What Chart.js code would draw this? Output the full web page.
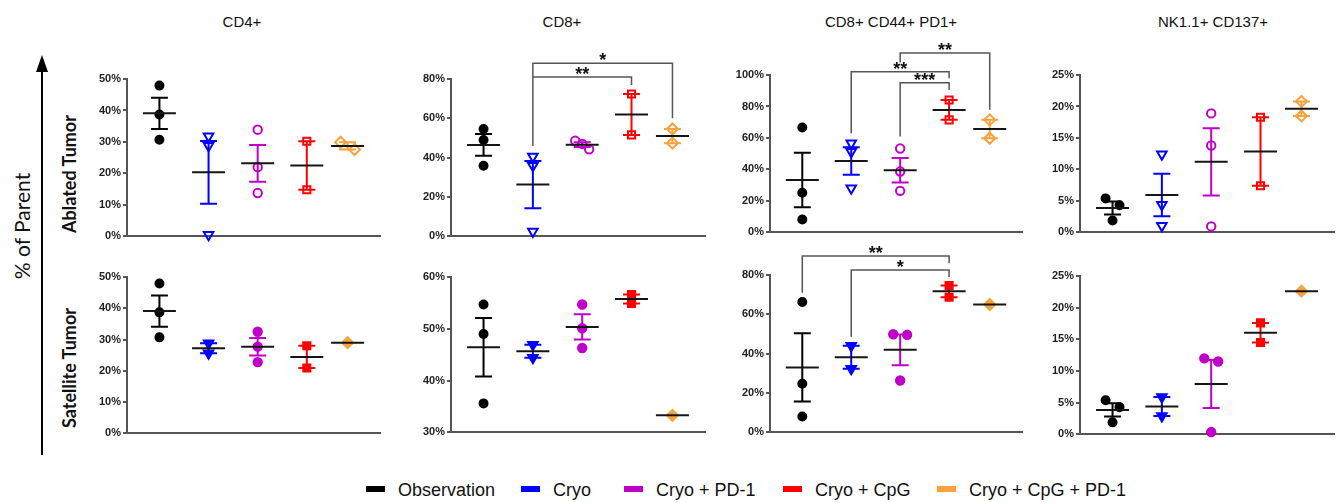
<!DOCTYPE html>
<html>
<head>
<meta charset="utf-8">
<script src="https://cdn.jsdelivr.net/npm/chart.js@4.4.1/dist/chart.umd.min.js"></script>
<style>
body{margin:0;width:1344px;height:503px;background:#fff;position:relative;overflow:hidden;font-family:Arial,"Liberation Sans",sans-serif;color:#111}
canvas{position:absolute}
.title{position:absolute;top:13px;font-size:15px;transform:translateX(-50%);white-space:nowrap}
.side{position:absolute;white-space:nowrap;transform:translate(-50%,-50%) rotate(-90deg)}
.lg{position:absolute;top:480px;font-size:18px;white-space:nowrap;line-height:20px}
.lg i{display:inline-block;width:19px;height:6px;margin-right:13px;vertical-align:middle;position:relative;top:-2px}
</style>
</head>
<body>
<svg style="position:absolute;left:0;top:0" width="90" height="503">
  <line x1="42" y1="68" x2="42" y2="455" stroke="#000" stroke-width="2"/>
  <polygon points="42,55 36,72 48,72" fill="#000"/>
</svg>
<div class="side" style="left:21px;top:226px;font-size:21px;font-family:Lato,'Open Sans',sans-serif">% of Parent</div>
<div class="side" style="left:69px;top:174px;font-size:18px;font-weight:bold;font-family:Lato,'Open Sans',sans-serif">Ablated Tumor</div>
<div class="side" style="left:69px;top:368px;font-size:18px;font-weight:bold;font-family:Lato,'Open Sans',sans-serif">Satellite Tumor</div>

<div class="title" style="left:242px">CD4+</div>
<div class="title" style="left:562px">CD8+</div>
<div class="title" style="left:891px">CD8+ CD44+ PD1+</div>
<div class="title" style="left:1213px">NK1.1+ CD137+</div>

<div id="legend"></div>

<script>
// groups and styling
const groups = ["Observation", "Cryo", "Cryo + PD-1", "Cryo + CpG", "Cryo + CpG + PD-1"];
const colors = ["#000000", "#0000ff", "#c000c8", "#ff0000", "#f7a23c"];
const markers = ["circle", "triangle", "circle", "rect", "rectRot"];
const catX = [1, 2, 3, 4, 4.83];

// % of parent, per group (ablated row)
const cd4Ablated  = [[47.9, 38.7, 30.7], [31.8, 28.8, 0.5], [33.9, 22.0, 13.8], [30.2, 14.8], [29.9, 27.6]];
const cd8Ablated  = [[54.6, 49.0, 35.9], [40.6, 35.9, 2.5], [48.6, 44.3, 47.0], [72.4, 51.6], [54.6, 47.4]];
const pd1Ablated  = [[66.6, 25.2, 8.2], [56.7, 51.2, 28.1], [53.3, 38.7, 26.4], [84.1, 71.5], [71.5, 59.8]];
const nkAblated   = [[5.4, 4.3, 1.9], [12.4, 4.4, 1.05], [18.9, 13.8, 0.95], [18.3, 7.4], [20.8, 18.5]];
// satellite row
const cd4Satellite = [[47.9, 38.7, 30.7], [28.8, 25.6], [32.5, 27.75, 22.8], [28.0, 20.9], [29.0]];
const cd8Satellite = [[54.7, 49.0, 35.6], [46.9, 44.4], [54.7, 50.1, 46.3], [56.6, 54.9], [33.3]];
const pd1Satellite = [[66.3, 24.7, 8.1], [44.0, 32.4], [49.9, 49.6, 26.4], [74.7, 68.7], [65.0]];
const nkSatellite  = [[5.4, 4.3, 1.9], [5.9, 2.9], [12.0, 11.5, 0.37], [17.6, 14.5], [22.6]];

// y tick labels
const ticksCD4 = [0, 10, 20, 30, 40, 50];
const ticksCD8a = [0, 20, 40, 60, 80];
const ticksPD1a = [0, 20, 40, 60, 80, 100];
const ticksNK = [0, 5, 10, 15, 20, 25];
const ticksCD8s = [30, 40, 50, 60];
const ticksPD1s = [0, 20, 40, 60, 80];

// significance: [from group, to group, bracket level, left leg end, right leg end, label]
const sigCD8a = [[2, 4, 81, 46, 77, "**"], [2, 5, 88, 81, 60, "*"]];
const sigPD1a = [[3, 5, 114, 108, 78, "**"], [2, 4, 102, 63, 98, "**"], [3, 4, 95, 61, 90.5, "***"]];
const sigPD1s = [[1, 4, 89.6, 71, 86, "**"], [2, 4, 82.5, 48.6, 79, "*"]];

// [axis x, top tick y, zero y, axis end x]
const panels = [
  {vals: cd4Ablated, ticks: ticksCD4, open: true, box: [127, 79, 237, 382], sig: []},
  {vals: cd8Ablated, ticks: ticksCD8a, open: true, box: [451, 79, 237, 707], sig: sigCD8a},
  {vals: pd1Ablated, ticks: ticksPD1a, open: true, box: [770, 75, 233, 1024], sig: sigPD1a},
  {vals: nkAblated, ticks: ticksNK, open: true, box: [1080, 75, 233, 1336], sig: []},
  {vals: cd4Satellite, ticks: ticksCD4, open: false, box: [127, 277, 434, 382], sig: []},
  {vals: cd8Satellite, ticks: ticksCD8s, open: false, box: [451, 277, 433, 707], sig: []},
  {vals: pd1Satellite, ticks: ticksPD1s, open: false, box: [770, 275, 433, 1024], sig: sigPD1s},
  {vals: nkSatellite, ticks: ticksNK, open: false, box: [1080, 276, 435, 1336], sig: []}
];

Chart.defaults.font.family = 'Arial, "Liberation Sans", sans-serif';
const PAD_L = 45, PAD_T = 45, PAD_R = 6, PAD_B = 8;
const XMIN = 0.34, XMAX = 5.5;

// spread points that would sit on top of each other (like prism does)
function spread(vals, pxPerY, pxPerX){
  const order = vals.map((v, i) => i).sort((a, b) => vals[b] - vals[a]);
  const off = vals.map(() => 0);
  let cl = [order[0]];
  const flush = () => {
    const n = cl.length;
    if(n > 1) cl.forEach((k, j) => off[k] = (j - (n - 1) / 2) * (14 / (n - 1)) / pxPerX);
  };
  for(let i = 1; i < order.length; i++){
    if((vals[cl[cl.length - 1]] - vals[order[i]]) * pxPerY < 8.4) cl.push(order[i]);
    else { flush(); cl = [order[i]]; }
  }
  flush();
  return off;
}

function statsPlugin(p){
  return {id: "stats", afterDatasetsDraw(chart){
    const {ctx, scales: {x, y}} = chart;
    ctx.save();
    ctx.lineWidth = 2;
    p.vals.forEach((vals, g) => {
      const n = vals.length;
      const m = vals.reduce((a, b) => a + b, 0) / n;
      const cx = x.getPixelForValue(catX[g]);
      if(n > 1){
        const sd = Math.sqrt(vals.reduce((a, v) => a + (v - m) * (v - m), 0) / (n - 1));
        const se = sd / Math.sqrt(n);
        const y1 = y.getPixelForValue(m + se), y2 = y.getPixelForValue(m - se);
        ctx.strokeStyle = colors[g];
        ctx.beginPath();
        ctx.moveTo(cx, y1); ctx.lineTo(cx, y2);
        ctx.moveTo(cx - 8.5, y1); ctx.lineTo(cx + 8.5, y1);
        ctx.moveTo(cx - 8.5, y2); ctx.lineTo(cx + 8.5, y2);
        ctx.stroke();
      }
      const ym = y.getPixelForValue(m);
      ctx.strokeStyle = "#151515";
      ctx.beginPath(); ctx.moveTo(cx - 16.5, ym); ctx.lineTo(cx + 16.5, ym); ctx.stroke();
    });
    ctx.strokeStyle = "#555";
    ctx.lineWidth = 1.5;
    ctx.fillStyle = "#111";
    ctx.font = 'bold 18px Arial, "Liberation Sans", sans-serif';
    ctx.textAlign = "center";
    ctx.textBaseline = "alphabetic";
    p.sig.forEach(([a, b, lvl, l, r, txt]) => {
      const xa = x.getPixelForValue(catX[a - 1]), xb = x.getPixelForValue(catX[b - 1]);
      const yl = y.getPixelForValue(lvl);
      ctx.beginPath();
      ctx.moveTo(xa, y.getPixelForValue(l)); ctx.lineTo(xa, yl);
      ctx.lineTo(xb, yl); ctx.lineTo(xb, y.getPixelForValue(r));
      ctx.stroke();
      ctx.fillText(txt, (xa + xb) / 2, yl + 3);
    });
    ctx.restore();
  }};
}

panels.forEach(p => {
  const [ax, top, bot, end] = p.box;
  const cv = document.createElement("canvas");
  cv.width = end - ax + PAD_L + PAD_R;
  cv.height = bot - top + PAD_T + PAD_B;
  cv.style.left = (ax - PAD_L) + "px";
  cv.style.top = (top - PAD_T) + "px";
  document.body.appendChild(cv);

  const lo = p.ticks[0], hi = p.ticks[p.ticks.length - 1];
  const pxPerY = (bot - top) / (hi - lo);
  const pxPerX = (end - ax) / (XMAX - XMIN);

  const datasets = p.vals.map((vals, g) => {
    const off = spread(vals, pxPerY, pxPerX);
    const filled = !p.open || g === 0;
    return {
      label: groups[g],
      data: vals.map((v, j) => ({x: catX[g] + off[j], y: v})),
      pointStyle: markers[g],
      rotation: g === 1 ? 180 : 0,
      pointRadius: [4, 5.5, 4.2, 5, 5.5][g],
      borderColor: colors[g],
      backgroundColor: filled ? colors[g] : "rgba(0,0,0,0)",
      borderWidth: 2,
      clip: false
    };
  });

  new Chart(cv, {
    type: "scatter",
    data: {datasets},
    options: {
      responsive: false, animation: false, devicePixelRatio: 1,
      layout: {padding: {top: PAD_T, right: PAD_R, left: 0, bottom: 0}},
      plugins: {legend: {display: false}, tooltip: {enabled: false}},
      scales: {
        x: {type: "linear", min: XMIN, max: XMAX,
          ticks: {display: false}, grid: {display: false},
          border: {display: true, color: "#555", width: 2},
          afterFit: s => { s.height = PAD_B; }},
        y: {min: lo, max: hi,
          afterBuildTicks: s => { s.ticks = p.ticks.map(v => ({value: v})); },
          afterFit: s => { s.width = PAD_L; },
          ticks: {callback: v => v + "%", font: {weight: "bold", size: 11}, color: "#222", padding: 2},
          grid: {display: true, drawOnChartArea: false, drawTicks: true, tickLength: 4, color: "#555", lineWidth: 2},
          border: {display: true, color: "#555", width: 2}}
      }
    },
    plugins: [statsPlugin(p)]
  });
});

// legend
const lgLeft = [366, 521, 624, 783, 937];
const lg = document.getElementById("legend");
groups.forEach((g, i) => {
  const d = document.createElement("div");
  d.className = "lg";
  d.style.left = lgLeft[i] + "px";
  d.innerHTML = '<i style="background:' + colors[i] + '"></i>' + g;
  lg.appendChild(d);
});
</script>
</body>
</html>
